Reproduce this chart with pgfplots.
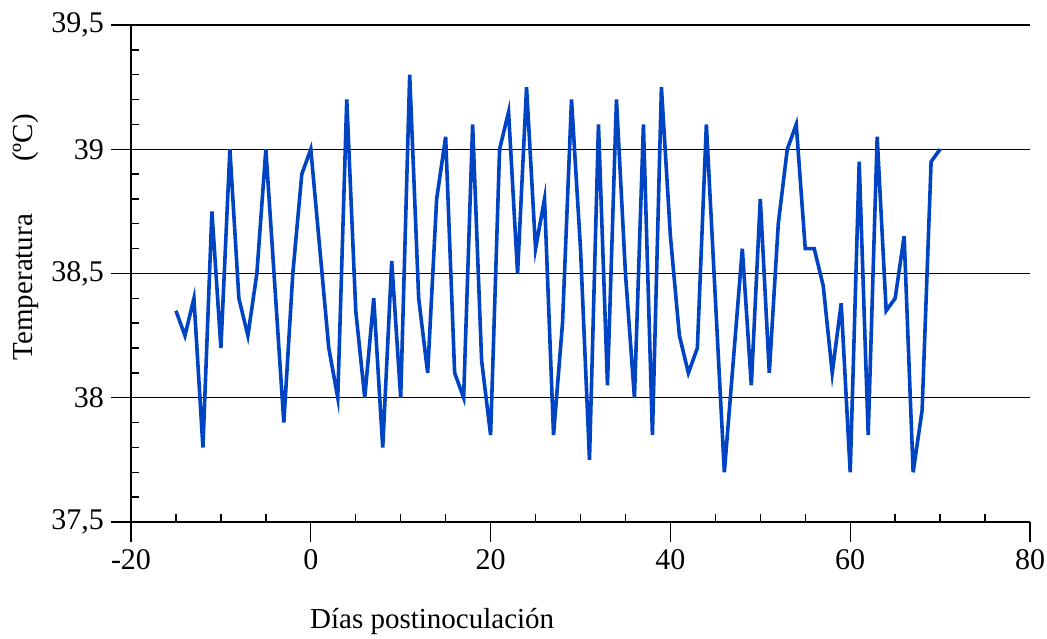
\documentclass[border=0pt]{standalone}
\usepackage{pgfplots}
\pgfplotsset{compat=1.18}
\usepackage{fontspec}
\setmainfont{Liberation Serif}
\definecolor{serie}{RGB}{0,68,196}

\begin{document}
\begin{tikzpicture}
\begin{axis}[
  scale only axis, width=449.5pt, height=248.5pt,
  xmin=-20, xmax=80, ymin=37.5, ymax=39.5,
  xtick={-20,0,...,80}, ytick={37.5,38,...,39.5},
  minor x tick num=3, minor y tick num=4,
  axis lines=left, axis line style={-, line width=0.9pt},
  tick align=outside, major tick length=10pt, minor tick length=-4pt,
  tick style={black, line width=0.7pt},
  ymajorgrids, major grid style={black, line width=0.6pt},
  /pgf/number format/use comma, /pgf/number format/1000 sep={},
  /pgf/number format/assume math mode=true,
  tick label style={font=\fontsize{15}{17}\selectfont},
  label style={font=\fontsize{14.5}{17}\selectfont},
  xlabel={Días postinoculación},
  ylabel={Temperatura\hspace{1.8em}(ºC)},
  xlabel style={at={(axis description cs:0.335,-0.2012)}, anchor=center},
  ylabel style={at={(axis description cs:-0.1168,0.573)}, anchor=center},
]
\addplot[serie, line width=1.8pt, mark=none] coordinates {
(-15,38.35) (-14,38.25) (-13,38.4) (-12,37.8) (-11,38.75) (-10,38.2)
(-9,39.0) (-8,38.4) (-7,38.25) (-6,38.5) (-5,39.0) (-4,38.45)
(-3,37.9) (-2,38.5) (-1,38.9) (0,39.0) (1,38.6) (2,38.2)
(3,38.0) (4,39.2) (5,38.35) (6,38.0) (7,38.4) (8,37.8)
(9,38.55) (10,38.0) (11,39.3) (12,38.4) (13,38.1) (14,38.8)
(15,39.05) (16,38.1) (17,38.0) (18,39.1) (19,38.15) (20,37.85)
(21,39.0) (22,39.15) (23,38.5) (24,39.25) (25,38.6) (26,38.8)
(27,37.85) (28,38.3) (29,39.2) (30,38.6) (31,37.75) (32,39.1)
(33,38.05) (34,39.2) (35,38.5) (36,38.0) (37,39.1) (38,37.85)
(39,39.25) (40,38.65) (41,38.25) (42,38.1) (43,38.2) (44,39.1)
(45,38.4) (46,37.7) (47,38.15) (48,38.6) (49,38.05) (50,38.8)
(51,38.1) (52,38.7) (53,39.0) (54,39.1) (55,38.6) (56,38.6)
(57,38.45) (58,38.1) (59,38.38) (60,37.7) (61,38.95) (62,37.85)
(63,39.05) (64,38.35) (65,38.4) (66,38.65) (67,37.7) (68,37.95)
(69,38.95) (70,39.0)
};
\coordinate (bl) at (rel axis cs:0,0);
\coordinate (tr) at (rel axis cs:1,1);
\end{axis}
\pgfresetboundingbox
\path[use as bounding box] ([shift={(-65.5pt,-58.5pt)}]bl) rectangle ([shift={(8.5pt,12.5pt)}]tr);
\end{tikzpicture}
\end{document}
